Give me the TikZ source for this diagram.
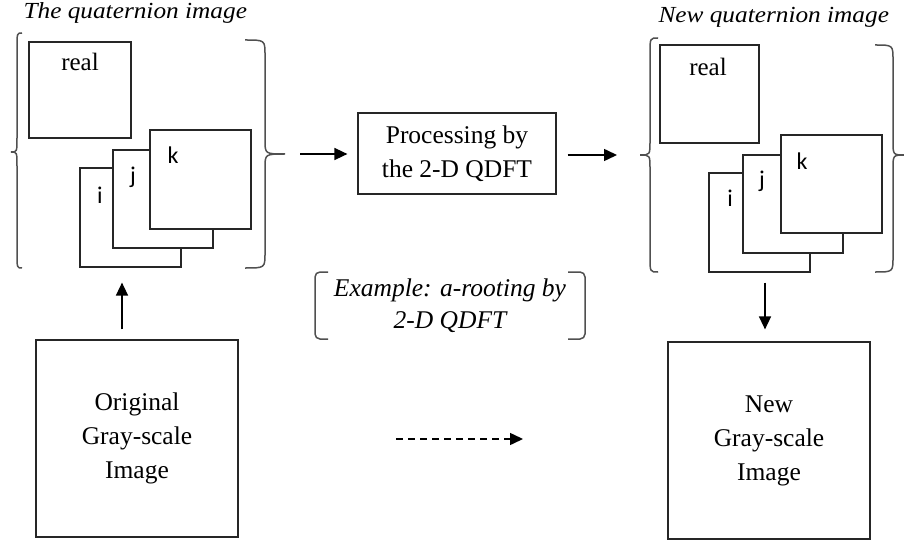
\documentclass[tikz,border=0pt]{standalone}
\usepackage{fontspec}
\setmainfont{Liberation Serif}
\newfontfamily\labelfont{Carlito}
\newfontfamily\titlefont[FakeStretch=1.1]{Liberation Serif}
\usetikzlibrary{arrows.meta}

\definecolor{bracegray}{RGB}{80,80,80}

% curly brace: ends at x0, spine at xl, point at (xt,ym)
\newcommand\curlybrace[6]{%
  \draw[brace] (#1,#4) .. controls (#2,#4) .. (#2,#4+15)
    -- (#2,#5-14) .. controls (#2,#5) .. (#3,#5)
    .. controls (#2,#5) .. (#2,#5+14)
    -- (#2,#6-15) .. controls (#2,#6) .. (#1,#6);}

\begin{document}
\begin{tikzpicture}[x=1pt,y=-1pt,
  panel/.style={draw=black!85, line width=1.2pt, fill=white, inner sep=0pt},
  brace/.style={draw=bracegray, line width=1.5pt},
  arr/.style={line width=1.5pt, -{Triangle[length=13pt,width=12pt]}},
  sertext/.style={font=\fontsize{25.5}{34}\selectfont, align=center},
  sanslabel/.style={font=\labelfont\fontsize{24}{26}\selectfont, anchor=base},
  reallabel/.style={font=\fontsize{25}{28}\selectfont, anchor=base},
  titletext/.style={font=\titlefont\itshape\fontsize{23}{26}\selectfont, anchor=base west}]

\path[use as bounding box] (0,0) rectangle (904,540);

% titles
\node[titletext] (t1) at (20,19) {The quaternion image};
\node[titletext] (t2) at (655,23) {New quaternion image};

% first quaternion image
\node[panel, minimum width=102pt, minimum height=96pt] (real1) at (80,90) {};
\node[reallabel] (real1l) at (80,71) {real};
\node[panel, minimum width=101pt, minimum height=99pt] (i1) at (130.5,217.5) {};
\node[panel, minimum width=100pt, minimum height=98pt] (j1) at (163,199) {};
\node[panel, minimum width=101pt, minimum height=99pt] (k1) at (200.5,179.5) {};
\node[sanslabel] (i1l) at (100,203) {i};
\node[sanslabel] (j1l) at (133,183) {j};
\node[sanslabel] (k1l) at (173,164) {k};
\curlybrace{22}{17}{11}{33}{152}{268}
\curlybrace{245}{265}{285}{40}{154}{268}
\coordinate (tipA) at (285,154);

% second quaternion image
\node[panel, minimum width=99pt, minimum height=98pt] (real2) at (709.5,94) {};
\node[reallabel] (real2l) at (708,76) {real};
\node[panel, minimum width=101pt, minimum height=99pt] (i2) at (759.5,222.5) {};
\node[panel, minimum width=100pt, minimum height=98pt] (j2) at (793,204) {};
\node[panel, minimum width=101pt, minimum height=98pt] (k2) at (831.5,184) {};
\node[sanslabel] (i2l) at (730,207) {i};
\node[sanslabel] (j2l) at (762,188) {j};
\node[sanslabel] (k2l) at (802,170) {k};
\curlybrace{658}{650}{640}{38}{155}{272}
\curlybrace{875}{893}{905}{45}{155}{272}
\coordinate (tipC) at (640,155);

% processing block
\node[panel, sertext, minimum width=198pt, minimum height=81pt] (proc) at (457,153.5)
  {Processing by\\the 2-D QDFT};

% example note in brackets
\node[sertext, font=\itshape\fontsize{25.5}{32}\selectfont] (example) at (450,306)
  {Example: a-rooting by\\2-D QDFT};
\draw[brace, rounded corners=5pt] (328,272) -- (315,272) -- (315,339) -- (328,339);
\draw[brace, rounded corners=5pt] (568,272) -- (585,272) -- (585,339) -- (568,339);

% gray-scale images
\node[panel, sertext, minimum width=202pt, minimum height=197pt] (orig) at (137,438.5)
  {Original\\Gray-scale\\Image};
\node[panel, sertext, minimum width=202pt, minimum height=197pt] (new) at (769,440.5)
  {New\\Gray-scale\\Image};

% connectors
\draw[arr, shorten <=15pt, shorten >=10pt] (tipA) -- (proc.west |- tipA);
\draw[arr, shorten <=11pt, shorten >=23pt] (proc.east |- tipC) -- (tipC);
\draw[arr, shorten <=10pt, shorten >=15pt] ([xshift=-15pt]orig.north) -- ([xshift=-15pt]orig.north |- i1.south);
\draw[arr, shorten <=10pt, shorten >=12pt] ([xshift=-4pt]new.north |- i2.south) -- ([xshift=-4pt]new.north);
\coordinate (dA) at (396,439);
\coordinate (dB) at (523,439);
\draw[arr, dash pattern=on 7pt off 5pt] (dA) -- (dB);

\end{tikzpicture}
\end{document}
